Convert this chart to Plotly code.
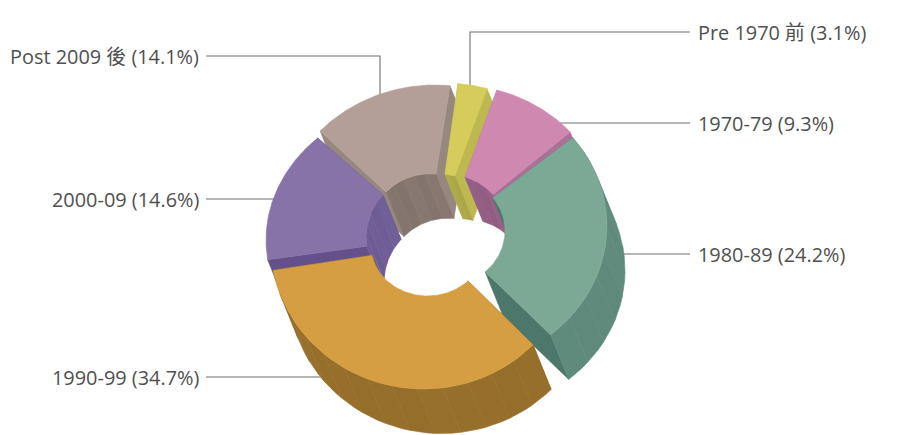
import math
import plotly.graph_objects as go

# ---- data ----
categories = ["Pre 1970 前", "1970-79", "1980-89", "1990-99", "2000-09", "Post 2009 後"]
shares = [3.1, 9.3, 24.2, 34.7, 14.6, 14.1]

# ---- style ----
top_colors = ["#d6cc5b", "#cf89b0", "#7ca896", "#d69e42", "#8873a9", "#b39f97"]
wall_colors = ["#bdb850", "#a96f95", "#5f8a7c", "#966f2b", "#6b5790", "#85756f"]
side_colors = ["#bdb850", "#ac7097", "#4d776b", "#8a6526", "#64508a", "#96877f"]
inner_colors = ["#aeaa49", "#945f85", "#5f8a7c", "#966f2b", "#6f5d95", "#85756f"]
# projected geometry of each exploded slice: outer ellipse, inner ellipse, angle tweak
outer = [(443.4, 213, 152, 130), (453.4, 216.5, 152, 132), (445, 226, 162, 143.7),
         (423.5, 243, 153, 146), (444, 240, 178, 145), (434.5, 240, 161, 155)]
inner = [(440, 219, 52, 45), (448.4, 229.7, 58, 55), (448, 231, 57, 54),
         (427.5, 246, 56.5, 50), (425, 238, 59, 61), (430, 235.7, 62, 62)]
angle_tweak = [0, 0, 2, -3, 0, 0]
start_angle = 5.5
shift = (18, 44.5)
draw_order = [5, 0, 4, 1, 2, 3]
facet_shades = [1.0, 0.98, 1.015, 0.99, 1.02, 0.975]
leaders = {
    0: [(690, 32), (470, 32), (470, 95)],
    1: [(690, 123), (560, 123)],
    2: [(690, 254), (615, 254)],
    3: [(206, 377), (325, 377)],
    4: [(206, 199), (275, 199)],
    5: [(206, 56), (380, 56), (380, 105)],
}
label_pos = [(696, 32, "left"), (696, 123, "left"), (696, 254, "left"),
             (201, 377, "right"), (201, 199, "right"), (201, 56, "right")]
FONT = "Open Sans, Noto Sans CJK TC, sans-serif"


def shade(hex_color, k):
    r, g, b = (int(hex_color[i:i + 2], 16) for i in (1, 3, 5))
    return "rgb({},{},{})".format(*(min(255, round(c * k)) for c in (r, g, b)))


def pt(ell, deg):
    cx, cy, rx, ry = ell
    a = math.radians(deg)
    return cx + rx * math.sin(a), cy - ry * math.cos(a)


def moved(p):
    return p[0] + shift[0], p[1] + shift[1]


fig = go.Figure()


def poly(points, color):
    xs = [p[0] for p in points] + [points[0][0]]
    ys = [p[1] for p in points] + [points[0][1]]
    fig.add_trace(go.Scatter(x=xs, y=ys, mode="lines", fill="toself", fillcolor=color,
                             line=dict(color=color, width=0.6), hoverinfo="skip", showlegend=False))


def wall(ell, a, b, color):
    arc = [a + (b - a) * k / 8 for k in range(9)]
    top = [pt(ell, t) for t in arc]
    poly(top + [moved(p) for p in reversed(top)], color)


for i, path in leaders.items():
    fig.add_trace(go.Scatter(x=[p[0] for p in path], y=[p[1] for p in path], mode="lines",
                             line=dict(color="#6e6e6e", width=1.1), hoverinfo="skip", showlegend=False))

total = sum(shares)
bounds = [start_angle]
for s in shares:
    bounds.append(bounds[-1] + s / total * 360)

for i in draw_order:
    a0 = bounds[i] + angle_tweak[i]
    a1 = bounds[i + 1] + angle_tweak[i]
    n_f = max(2, int((a1 - a0) / 9))
    steps = [a0 + (a1 - a0) * k / n_f for k in range(n_f + 1)]
    back = math.cos(math.radians((a0 + a1) / 2)) > 0
    # radial side faces
    for a in (a0, a1):
        o, n = pt(outer[i], a), pt(inner[i], a)
        poly([o, moved(o), moved(n), n], side_colors[i])
    # the hole's wall shows on slices at the back, the outer wall on slices at the front
    ell, cols, k_scale = (inner[i], inner_colors, 1.0) if back else (outer[i], wall_colors, 0.3)
    for k in range(n_f):
        wall(ell, steps[k], steps[k + 1], shade(cols[i], 1 + (facet_shades[k % 6] - 1) * k_scale))
    # top face
    fine = [a0 + (a1 - a0) * k / 80 for k in range(81)]
    poly([pt(outer[i], a) for a in fine] + [pt(inner[i], a) for a in reversed(fine)], top_colors[i])

for cat, val, (x, y, anchor) in zip(categories, shares, label_pos):
    fig.add_annotation(x=x, y=y, xref="x", yref="y", text=f"{cat} ({val}%)", showarrow=False,
                       xanchor=anchor, yanchor="middle",
                       font=dict(family=FONT, size=19.9, color="#505050"))

fig.update_layout(width=912, height=435, margin=dict(l=0, r=0, t=0, b=0),
                  paper_bgcolor="white", plot_bgcolor="white", showlegend=False,
                  xaxis=dict(range=[0, 912], visible=False, fixedrange=True),
                  yaxis=dict(range=[435, 0], visible=False, fixedrange=True))
fig.write_html("out.html", config={"displayModeBar": False},
               post_script="document.body.style.margin='0';document.body.style.overflow='hidden';")
